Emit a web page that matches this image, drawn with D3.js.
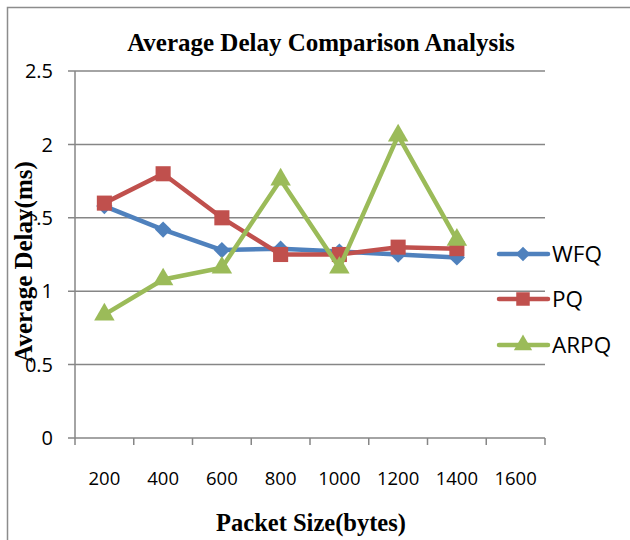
<!DOCTYPE html>
<html><head><meta charset="utf-8">
<script src="https://cdn.jsdelivr.net/npm/d3@7"></script>
<style>body{margin:0;background:#fff}</style>
</head><body>
<script>
const categories = ["200","400","600","800","1000","1200","1400","1600"];
const wfq  = [1.58, 1.42, 1.28, 1.29, 1.27, 1.25, 1.23, null];
const pq   = [1.60, 1.80, 1.50, 1.25, 1.25, 1.30, 1.29, null];
const arpq = [0.84, 1.08, 1.16, 1.76, 1.16, 2.06, 1.35, null];
const yTicks = [0, 0.5, 1, 1.5, 2, 2.5];
const seriesNames = ["WFQ","PQ","ARPQ"];

const W=630,H=540;
const svg=d3.select("body").append("svg").attr("width",W).attr("height",H);
svg.append("rect").attr("width",W).attr("height",H).attr("fill","#fff");
// outer frame
svg.append("path").attr("d","M7.5,540 V7.5 H630").attr("fill","none").attr("stroke","#8c8c8c").attr("stroke-width",1.5);

const L=75,R=545,T=71,B=438;
const x=d3.scaleBand().domain(categories).range([L,R]);
const y=d3.scaleLinear().domain([0,2.5]).range([B,T]);
const gridC="#868686";
const sans="Open Sans, Liberation Sans, sans-serif";
const serif="Liberation Serif, Times New Roman, serif";

// gridlines
svg.append("g").selectAll("line").data(yTicks).join("line")
  .attr("x1",L-7).attr("x2",R).attr("y1",d=>y(d)).attr("y2",d=>y(d))
  .attr("stroke",gridC).attr("stroke-width",1.5);
// y axis line
svg.append("line").attr("x1",L).attr("x2",L).attr("y1",T).attr("y2",B).attr("stroke",gridC).attr("stroke-width",1.5);
// x ticks at category boundaries
const bounds=categories.map(c=>x(c)).concat([R]);
svg.append("g").selectAll("line").data(bounds).join("line")
  .attr("x1",d=>d).attr("x2",d=>d).attr("y1",B).attr("y2",B+7)
  .attr("stroke",gridC).attr("stroke-width",1.5);
svg.append("g").selectAll("text").data(categories).join("text")
  .attr("x",d=>x(d)+x.bandwidth()/2).attr("y",478).attr("dy","0.36em").attr("text-anchor","middle")
  .attr("font-family",sans).attr("font-size",18.5).attr("fill","#000")
  .text(d=>d);

// titles
svg.append("text").attr("x",321).attr("y",51).attr("text-anchor","middle")
  .attr("font-family",serif).attr("font-weight","bold").attr("font-size",25)
  .text("Average Delay Comparison Analysis");
svg.append("text").attr("x",311).attr("y",531).attr("text-anchor","middle")
  .attr("font-family",serif).attr("font-weight","bold").attr("font-size",24.5)
  .text("Packet Size(bytes)");
svg.append("text").attr("transform","translate(32,262) rotate(-90)").attr("text-anchor","middle")
  .attr("font-family",serif).attr("font-weight","bold").attr("font-size",25)
  .text("Average Delay(ms)");

// y labels (drawn after the axis title, like the reference)
svg.append("g").selectAll("text").data(yTicks).join("text")
  .attr("x",53).attr("y",d=>y(d)).attr("dy","0.36em").attr("text-anchor","end")
  .attr("font-family",sans).attr("font-size",20).attr("fill","#000")
  .text(d=>d);

const series=[
  {name:"WFQ",vals:wfq,color:"#4F81BD",sym:d3.symbolDiamond2,size:170},
  {name:"PQ",vals:pq,color:"#C0504D",sym:d3.symbolSquare2,size:290},
  {name:"ARPQ",vals:arpq,color:"#9BBB59",sym:d3.symbolTriangle2,size:300}
];
const cx=c=>x(c)+x.bandwidth()/2;
series.forEach(s=>{
  const pts=categories.map((c,i)=>({c,v:s.vals[i]})).filter(p=>p.v!=null);
  const line=d3.line().x(p=>cx(p.c)).y(p=>y(p.v));
  svg.append("path").datum(pts).attr("d",line).attr("fill","none")
    .attr("stroke",s.color).attr("stroke-width",4.5).attr("stroke-linejoin","round");
  svg.append("g").selectAll("path").data(pts).join("path")
    .attr("transform",p=>`translate(${cx(p.c)},${y(p.v)})`)
    .attr("d",d3.symbol().type(s.sym).size(s.size)).attr("fill",s.color);
});

// legend
const legY=[254,299,345];
series.forEach((s,i)=>{
  const g=svg.append("g").attr("transform",`translate(0,${legY[i]})`);
  g.append("line").attr("x1",499).attr("x2",548).attr("stroke",s.color).attr("stroke-width",4.5).attr("stroke-linecap","round");
  g.append("path").attr("transform","translate(523,0)").attr("d",d3.symbol().type(s.sym).size(s.size*0.8)).attr("fill",s.color);
  g.append("text").attr("x",552).attr("dy","0.36em").attr("font-family",sans)
    .attr("font-size",22.5).text(s.name);
});
</script>
</body></html>
